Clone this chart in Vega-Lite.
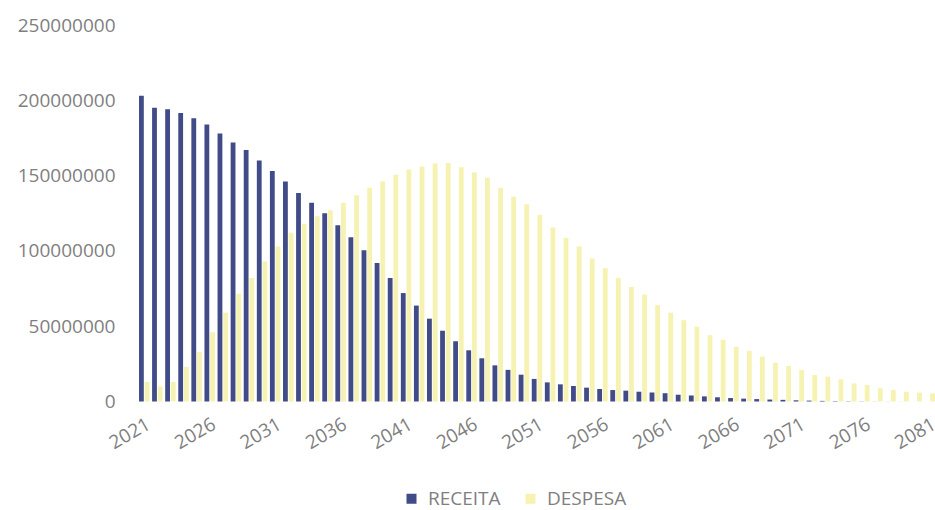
{
  "$schema": "https://vega.github.io/schema/vega-lite/v6.json",
  "autosize": "none",
  "width": 796,
  "height": 376.5,
  "padding": {"left": 139, "top": 25, "right": 0, "bottom": 108.5},
  "background": "white",
  "config": {
    "view": {"stroke": null},
    "font": "Open Sans",
    "axis": {"grid": false, "domain": false, "ticks": false, "labelColor": "#7f7f7f", "labelFont": "Open Sans", "labelFontSize": 19, "title": null}
  },
  "datasets": {
    "d": [
      {"ano": 2021, "RECEITA": 203, "DESPESA": 13},
      {"ano": 2022, "RECEITA": 195, "DESPESA": 10},
      {"ano": 2023, "RECEITA": 194, "DESPESA": 13},
      {"ano": 2024, "RECEITA": 191.5, "DESPESA": 23},
      {"ano": 2025, "RECEITA": 188, "DESPESA": 33},
      {"ano": 2026, "RECEITA": 184, "DESPESA": 46},
      {"ano": 2027, "RECEITA": 178, "DESPESA": 59},
      {"ano": 2028, "RECEITA": 172, "DESPESA": 71.5},
      {"ano": 2029, "RECEITA": 167, "DESPESA": 82},
      {"ano": 2030, "RECEITA": 160, "DESPESA": 93},
      {"ano": 2031, "RECEITA": 153, "DESPESA": 103},
      {"ano": 2032, "RECEITA": 146, "DESPESA": 112},
      {"ano": 2033, "RECEITA": 138.5, "DESPESA": 118},
      {"ano": 2034, "RECEITA": 132, "DESPESA": 123},
      {"ano": 2035, "RECEITA": 125, "DESPESA": 127},
      {"ano": 2036, "RECEITA": 117, "DESPESA": 132},
      {"ano": 2037, "RECEITA": 109, "DESPESA": 137},
      {"ano": 2038, "RECEITA": 100.5, "DESPESA": 142},
      {"ano": 2039, "RECEITA": 92, "DESPESA": 146},
      {"ano": 2040, "RECEITA": 82, "DESPESA": 150.5},
      {"ano": 2041, "RECEITA": 72, "DESPESA": 154},
      {"ano": 2042, "RECEITA": 63.7, "DESPESA": 156},
      {"ano": 2043, "RECEITA": 55, "DESPESA": 158},
      {"ano": 2044, "RECEITA": 47, "DESPESA": 158.4},
      {"ano": 2045, "RECEITA": 40, "DESPESA": 155.5},
      {"ano": 2046, "RECEITA": 34, "DESPESA": 152},
      {"ano": 2047, "RECEITA": 28.7, "DESPESA": 148.5},
      {"ano": 2048, "RECEITA": 24, "DESPESA": 142},
      {"ano": 2049, "RECEITA": 21, "DESPESA": 136},
      {"ano": 2050, "RECEITA": 17.8, "DESPESA": 131},
      {"ano": 2051, "RECEITA": 15, "DESPESA": 124},
      {"ano": 2052, "RECEITA": 12.7, "DESPESA": 115.5},
      {"ano": 2053, "RECEITA": 11.4, "DESPESA": 108.5},
      {"ano": 2054, "RECEITA": 10.3, "DESPESA": 103},
      {"ano": 2055, "RECEITA": 9.2, "DESPESA": 95},
      {"ano": 2056, "RECEITA": 8.3, "DESPESA": 88.5},
      {"ano": 2057, "RECEITA": 7.6, "DESPESA": 82},
      {"ano": 2058, "RECEITA": 7.2, "DESPESA": 76},
      {"ano": 2059, "RECEITA": 6.5, "DESPESA": 71},
      {"ano": 2060, "RECEITA": 5.9, "DESPESA": 64},
      {"ano": 2061, "RECEITA": 5.5, "DESPESA": 59},
      {"ano": 2062, "RECEITA": 4.5, "DESPESA": 54},
      {"ano": 2063, "RECEITA": 4.0, "DESPESA": 49.7},
      {"ano": 2064, "RECEITA": 3.4, "DESPESA": 44},
      {"ano": 2065, "RECEITA": 2.8, "DESPESA": 41},
      {"ano": 2066, "RECEITA": 2.3, "DESPESA": 36.4},
      {"ano": 2067, "RECEITA": 1.9, "DESPESA": 33.6},
      {"ano": 2068, "RECEITA": 1.6, "DESPESA": 29.8},
      {"ano": 2069, "RECEITA": 1.3, "DESPESA": 25.8},
      {"ano": 2070, "RECEITA": 1.1, "DESPESA": 23.6},
      {"ano": 2071, "RECEITA": 0.8, "DESPESA": 21},
      {"ano": 2072, "RECEITA": 0.6, "DESPESA": 17.6},
      {"ano": 2073, "RECEITA": 0.4, "DESPESA": 16.5},
      {"ano": 2074, "RECEITA": 0.25, "DESPESA": 14.7},
      {"ano": 2075, "RECEITA": 0.15, "DESPESA": 12},
      {"ano": 2076, "RECEITA": 0.1, "DESPESA": 11},
      {"ano": 2077, "RECEITA": 0.05, "DESPESA": 8.8},
      {"ano": 2078, "RECEITA": 0.04, "DESPESA": 7.6},
      {"ano": 2079, "RECEITA": 0.03, "DESPESA": 6.5},
      {"ano": 2080, "RECEITA": 0.02, "DESPESA": 5.9},
      {"ano": 2081, "RECEITA": 0.01, "DESPESA": 5.4}
    ]
  },
  "data": {"name": "d"},
  "transform": [
    {"fold": ["RECEITA", "DESPESA"], "as": ["serie", "milhoes"]},
    {"calculate": "datum.milhoes * 1000000", "as": "valor"}
  ],
  "mark": {"type": "bar"},
  "encoding": {
    "x": {
      "field": "ano", "type": "ordinal",
      "scale": {"paddingInner": 0.2, "paddingOuter": 0},
      "axis": {"values": [2021, 2026, 2031, 2036, 2041, 2046, 2051, 2056, 2061, 2066, 2071, 2076, 2081], "labelAngle": -30, "labelAlign": "right", "labelBaseline": "top", "labelPadding": 13}
    },
    "xOffset": {"field": "serie", "type": "nominal", "sort": ["RECEITA", "DESPESA"], "scale": {"paddingInner": 0.15}},
    "y": {
      "field": "valor", "type": "quantitative",
      "scale": {"domain": [0, 250000000], "nice": false},
      "axis": {"values": [0, 50000000, 100000000, 150000000, 200000000, 250000000], "format": "d", "labelPadding": 24}
    },
    "color": {
      "field": "serie", "type": "nominal",
      "sort": ["RECEITA", "DESPESA"],
      "scale": {"domain": ["RECEITA", "DESPESA"], "range": ["#414b87", "#f6f2b2"]},
      "legend": {"title": null, "orient": "none", "direction": "horizontal", "legendX": 263, "legendY": 464, "symbolType": "square", "symbolSize": 100, "symbolStrokeWidth": 0, "labelFont": "Open Sans", "labelFontSize": 19, "labelColor": "#7f7f7f", "labelOffset": 7, "columnPadding": 20, "padding": 0}
    }
  }
}
